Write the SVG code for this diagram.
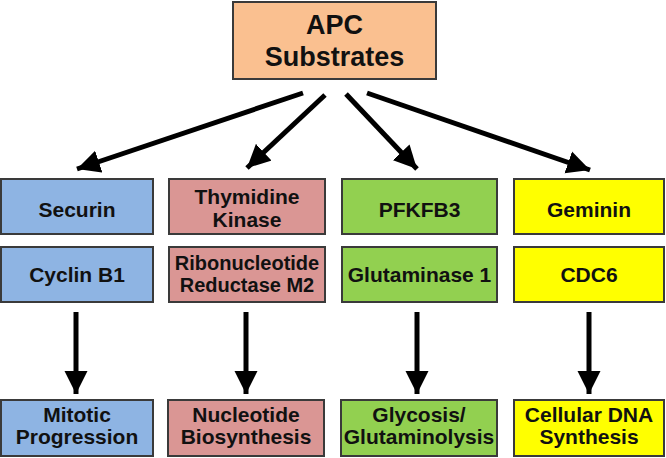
<svg xmlns="http://www.w3.org/2000/svg" width="666" height="458" viewBox="0 0 666 458">
<defs>
<marker id="ah" viewBox="0 0 10 10" refX="10" refY="5" markerWidth="4.6" markerHeight="4.8" markerUnits="strokeWidth" orient="auto">
<path d="M0,0 L10,5 L0,10 Z" fill="#000"/>
</marker>
<style>
rect{stroke:#3a3a3a;stroke-width:2}
text{font-family:"Liberation Sans",Arial,sans-serif;font-weight:bold;font-size:21px;fill:#111;text-anchor:middle}
.big{font-size:27px}
.sm{font-size:20px}
.blue{fill:#8EB4E3}
.pink{fill:#DA9694}
.green{fill:#92D050}
.yellow{fill:#FFFF00}
.orange{fill:#FAC090}
.conn line{stroke:#000;stroke-width:5;marker-end:url(#ah)}
</style>
</defs>
<rect width="666" height="458" fill="#fff" style="stroke:none"/>
<g id="apc"><rect class="orange" x="233" y="2" width="203" height="77"/><text class="big" x="334.5" y="34">APC</text><text class="big" x="334.5" y="66">Substrates</text></g>
<g id="securin"><rect class="blue" x="1" y="179" width="152" height="55"/><text x="77" y="217">Securin</text></g>
<g id="cyclinb1"><rect class="blue" x="1" y="247" width="152" height="55"/><text x="77" y="282">Cyclin B1</text></g>
<g id="mitotic"><rect class="blue" x="1" y="400" width="152" height="56"/><text x="77" y="421.7">Mitotic</text><text x="77" y="444.3">Progression</text></g>
<g id="thymidine"><rect class="pink" x="169" y="179" width="156" height="55"/><text x="247" y="203.5">Thymidine</text><text x="247" y="226.7">Kinase</text></g>
<g id="ribonucleotide"><rect class="pink" x="169" y="247" width="156" height="55"/><text class="sm" x="247" y="270">Ribonucleotide</text><text class="sm" x="247" y="292.3">Reductase M2</text></g>
<g id="nucleotide"><rect class="pink" x="168" y="400" width="156" height="56"/><text x="246" y="421.7">Nucleotide</text><text x="246" y="444.3">Biosynthesis</text></g>
<g id="pfkfb3"><rect class="green" x="342" y="179" width="155" height="55"/><text x="419.5" y="217">PFKFB3</text></g>
<g id="glutaminase"><rect class="green" x="342" y="247" width="155" height="55"/><text x="419.5" y="282">Glutaminase 1</text></g>
<g id="glycosis"><rect class="green" x="341" y="400" width="156" height="56"/><text x="419" y="421.7">Glycosis/</text><text x="419" y="444.3">Glutaminolysis</text></g>
<g id="geminin"><rect class="yellow" x="514" y="179" width="150" height="55"/><text x="589" y="217">Geminin</text></g>
<g id="cdc6"><rect class="yellow" x="514" y="247" width="150" height="55"/><text x="589" y="282">CDC6</text></g>
<g id="cellular"><rect class="yellow" x="514" y="400" width="150" height="56"/><text x="589" y="421.7">Cellular DNA</text><text x="589" y="444.3">Synthesis</text></g>
<g class="conn" id="connectors">
<line x1="303" y1="93" x2="77" y2="169"/>
<line x1="325" y1="95" x2="247" y2="168"/>
<line x1="346" y1="94" x2="417" y2="169"/>
<line x1="367" y1="93" x2="590" y2="170"/>
<line x1="76" y1="312" x2="76" y2="394"/>
<line x1="246" y1="312" x2="246" y2="394"/>
<line x1="417" y1="312" x2="417" y2="394"/>
<line x1="589" y1="312" x2="589" y2="394"/>
</g>
</svg>
